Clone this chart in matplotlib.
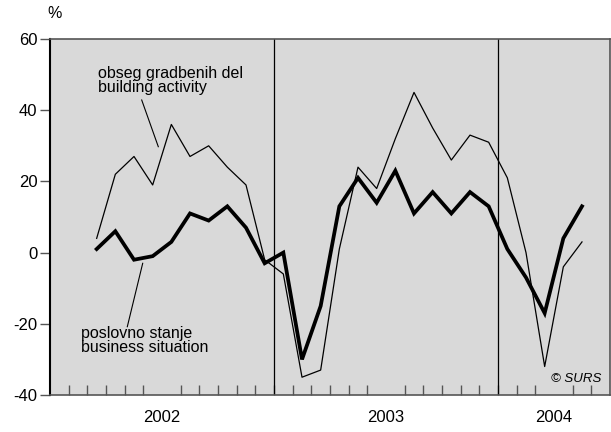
import matplotlib.pyplot as plt

plt.rcParams['font.family'] = ['Liberation Sans', 'DejaVu Sans']

#%% Data (monthly, Mar 2002 - May 2004)

months = list(range(2, 29))  # month index from Jan 2002 = 0

building = [4, 22, 27, 19, 36, 27, 30, 24, 19, -2,
            -6, -35, -33, 1, 24, 18, 32, 45, 35, 26, 33, 31,
            21, 0, -32, -4, 3]
business = [1, 6, -2, -1, 3, 11, 9, 13, 7, -3,
            0, -30, -15, 13, 21, 14, 23, 11, 17, 11, 17, 13,
            1, -7, -17, 4, 13]

years = ["2002", "2003", "2004"]
year_starts = [0, 12, 24]
year_ends = [12, 24, 30]
yticks = [-40, -20, 0, 20, 40, 60]

#%% Plot

fig = plt.figure(figsize=(6.11, 4.32), dpi=100)
ax = fig.add_axes([50/611, 1 - 395/432, 560/611, 356/432])
ax.set_facecolor('#d9d9d9')

x = [m + 0.5 for m in months]
ax.plot(x, building, color='black', lw=0.9)
ax.plot(x, business, color='black', lw=2.7, solid_joinstyle='miter')

# year separators
for s in year_starts[1:]:
    ax.axvline(s, color='black', lw=0.9)

ax.set_xlim(0, 30)
ax.set_ylim(-40, 60)

ax.set_yticks(yticks)
ax.set_yticklabels([str(v) for v in yticks], fontsize=12)
ax.tick_params(axis='y', direction='out', length=7, color='#555555', width=1, pad=2)

ax.set_xticks(range(1, 30), minor=True)
ax.set_xticks([(a + b) / 2 for a, b in zip(year_starts, year_ends)])
ax.set_xticklabels(years, fontsize=12)
ax.tick_params(axis='x', which='major', length=0, pad=11)
ax.tick_params(axis='x', which='minor', direction='in', length=7, color='#555555', width=1)

for side in ['top', 'right', 'bottom']:
    ax.spines[side].set_color('#555555')
    ax.spines[side].set_linewidth(1.2)
ax.spines['left'].set_color('black')
ax.spines['left'].set_linewidth(1.5)

# labels
fig.text(47/611, 1 - 18/432, "%", fontsize=11.5, ha='left', va='baseline')

fig.text(98/611, 1 - 66/432, "obseg gradbenih del\nbuilding activity", fontsize=11.5,
         ha='left', va='top', linespacing=0.95)

fig.text(80.7/611, 1 - 326/432, "poslovno stanje\nbusiness situation", fontsize=11.5,
         ha='left', va='top', linespacing=0.95)

fig.text(601/611, 1 - 382/432, "© SURS", fontsize=9.5, style='italic', ha='right', va='baseline')

# leader lines (in figure pixels from top-left)
def leader(x0, y0, x1, y1):
    fig.add_artist(plt.Line2D([x0/611, x1/611], [1 - y0/432, 1 - y1/432],
                              color='black', lw=0.8, transform=fig.transFigure))

leader(141.7, 100, 158.3, 146.7)
leader(127.3, 326.7, 142.7, 263.3)

fig.savefig('out.png', dpi=100)
